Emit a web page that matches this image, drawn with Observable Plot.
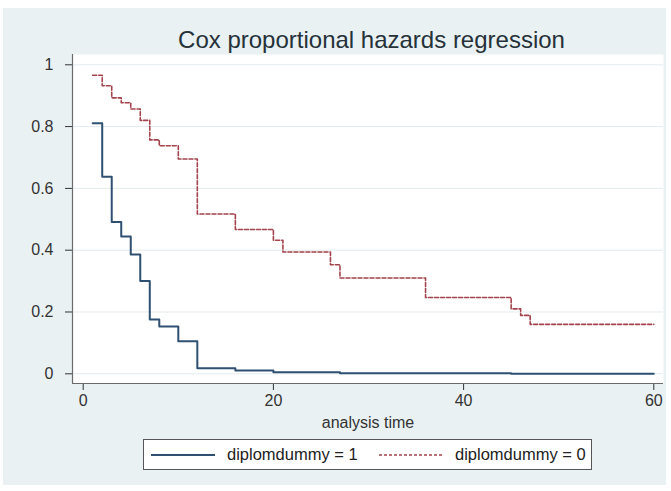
<!DOCTYPE html>
<html>
<head>
<meta charset="utf-8">
<script src="https://cdn.jsdelivr.net/npm/d3@7"></script>
<script src="https://cdn.jsdelivr.net/npm/@observablehq/plot@0.6"></script>
<style>
  html, body { margin: 0; padding: 0; background: #ffffff; }
  #wrap { position: relative; width: 671px; height: 491px; overflow: hidden; font-family: "Liberation Sans", Arial, sans-serif; }
  #panel { position: absolute; left: 3px; top: 8px; width: 663px; height: 477px; background: #e9f1f3; }
  #title { position: absolute; left: 0; width: 743px; top: 26px; text-align: center; font-size: 24px; color: #26313a; line-height: 28px; }
  #chart { position: absolute; left: 0; top: 46px; }
  #legend { position: absolute; left: 143px; top: 439px; width: 449px; height: 31px; background: #fff; border: 1px solid #555; box-sizing: border-box; }
  .item { position: absolute; top: 0; height: 29px; display: flex; align-items: center; font-size: 16.5px; color: #222; }
  .item svg { margin-right: 12px; }
</style>
</head>
<body>
<div id="wrap">
  <div id="panel"></div>
  <div id="title"></div>
  <div id="chart"></div>
  <div id="legend"></div>
</div>
<script>
// ---- data ----
const titleText = "Cox proportional hazards regression";
const xLabel = "analysis time";
const seriesNames = ["diplomdummy = 1", "diplomdummy = 0"];
const seriesColors = ["#2f5072", "#a3434c"];

const timesSolid = [1, 2, 3, 4, 5, 6, 7, 8, 10, 12, 16, 20, 27, 45, 60];
const survSolid  = [0.811, 0.638, 0.491, 0.444, 0.386, 0.300, 0.176, 0.153, 0.105, 0.018, 0.011, 0.005, 0.002, 0.0004, 0.0004];

const timesDashed = [1, 2, 3, 4, 5, 6, 7, 8, 10, 12, 16, 20, 21, 26, 27, 36, 45, 46, 47, 60];
const survDashed  = [0.966, 0.932, 0.893, 0.877, 0.857, 0.820, 0.757, 0.738, 0.695, 0.517, 0.467, 0.432, 0.394, 0.353, 0.310, 0.247, 0.210, 0.189, 0.160, 0.160];

const xTicks = [0, 20, 40, 60];
const yTicks = [0, 0.2, 0.4, 0.6, 0.8, 1];
const yTickLabels = ["0", "0.2", "0.4", "0.6", "0.8", "1"];

// ---- build ----
const solidData = timesSolid.map((t, i) => ({t, s: survSolid[i], g: seriesNames[0]}));
const dashedData = timesDashed.map((t, i) => ({t, s: survDashed[i], g: seriesNames[1]}));

const xDomain = [-1.125, 61.02];
const yDomain = [-0.0314, 1.0333];

document.getElementById("title").textContent = titleText;

const chart = Plot.plot({
  width: 671,
  height: 390,
  marginLeft: 72,
  marginRight: 8,
  marginTop: 8,
  marginBottom: 53,
  style: { background: "transparent", fontFamily: "'Liberation Sans', Arial, sans-serif", fontSize: "16px", color: "#333", overflow: "visible" },
  x: { domain: xDomain, ticks: xTicks, tickSize: 7, tickPadding: 4, label: xLabel, labelAnchor: "center", labelArrow: "none", labelOffset: 44 },
  y: { domain: yDomain, ticks: yTicks, tickFormat: d => yTickLabels[yTicks.indexOf(d)], tickSize: 7, tickPadding: 12, label: null },
  marks: [
    Plot.frame({ fill: "#ffffff", stroke: "none" }),
    Plot.gridY(yTicks, { stroke: "#e3eaed", strokeOpacity: 1 }),
    Plot.ruleX([xDomain[0]], { stroke: "#6b6b6b", strokeWidth: 1.2 }),
    Plot.ruleY([yDomain[0]], { stroke: "#6b6b6b", strokeWidth: 1.2 }),
    Plot.line(dashedData, { x: "t", y: "s", curve: "step-after", stroke: seriesColors[1], strokeWidth: 1.6, strokeDasharray: "4,2" }),
    Plot.line(solidData, { x: "t", y: "s", curve: "step-after", stroke: seriesColors[0], strokeWidth: 2 })
  ]
});
document.getElementById("chart").appendChild(chart);

// ---- legend ----
const legend = document.getElementById("legend");
const itemLefts = [7, 235];
seriesNames.forEach((name, i) => {
  const item = document.createElement("div");
  item.className = "item";
  item.style.left = itemLefts[i] + "px";
  const dash = i === 1 ? ' stroke-dasharray="3,2"' : "";
  const sw = i === 1 ? 1.4 : 1.8;
  item.innerHTML = `<svg width="64" height="10"><line x1="0" y1="5" x2="64" y2="5" stroke="${seriesColors[i]}" stroke-width="${sw}"${dash}/></svg><span></span>`;
  item.querySelector("span").textContent = name;
  legend.appendChild(item);
});
</script>
</body>
</html>
